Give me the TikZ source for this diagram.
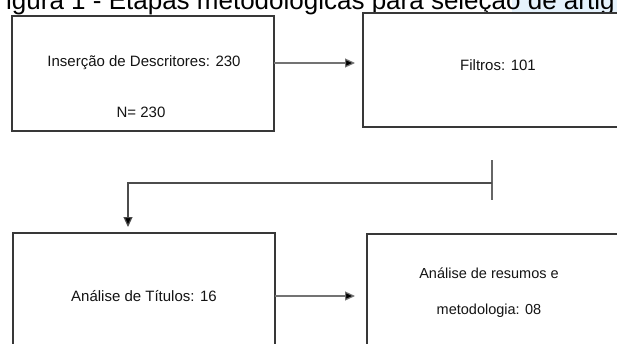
\documentclass[tikz,border=0pt]{standalone}
\usepackage{fontspec}
\setmainfont{Liberation Sans}
\usetikzlibrary{arrows.meta}
\definecolor{hl}{rgb}{0.90,0.95,0.99}
\begin{document}
\begin{tikzpicture}[x=1pt,y=-1pt,
  boxstyle/.style={draw=black!78,line width=1.6pt,inner sep=0pt,outer sep=0pt,fill=white},
  txt/.style={font=\fontsize{15}{18}\selectfont,text=black!92,inner sep=0pt},
  conn/.style={draw=black!55,line width=1.2pt,-{Triangle[length=10pt,width=9pt,fill=black]}},
  tickstyle/.style={draw=black!60,line width=1.5pt}]
\useasboundingbox (0,0) rectangle (617,343);
\clip (0,0) rectangle (617,343);
\fill[hl] (512,0) rectangle (617,12);
\node[anchor=base west,font=\fontsize{26}{30}\selectfont,inner sep=0pt] (title) at (6,9) {igura 1 - Etapas metodológicas para seleção de artig};
% boxes
\node[boxstyle,minimum width=262pt,minimum height=115pt] (b1) at (143,73.5) {};
\node[boxstyle,minimum width=270pt,minimum height=114pt] (b2) at (498,70) {};
\node[boxstyle,minimum width=262pt,minimum height=130pt] (b3) at (144,298) {};
\node[boxstyle,minimum width=262pt,minimum height=130pt] (b4) at (498,299) {};
% texts
\node[txt] (t1) at (144,63) {Inserção de Descritores: 230};
\node[txt] (t1b) at (141,112) {N= 230};
\node[txt] (t2) at (498,65) {Filtros: 101};
\node[txt] (t3) at (144,296) {Análise de Títulos: 16};
\node[txt,align=center,font=\fontsize{14.5}{36}\selectfont] (t4) at (489,293) {Análise de resumos e\\metodologia: 08};
% connectors
\draw[conn,shorten >=8pt] (t1.center -| b1.east) -- (t1.center -| b2.west);
\coordinate (tk) at (492,183);
\draw[tickstyle] (492,160) -- (492,200);
\draw[conn,draw=black!70,shorten >=6pt] (tk) -| ([xshift=-16pt]b3.north);
\draw[conn,shorten >=12pt] (t3.center -| b3.east) -- (t3.center -| b4.west);
\end{tikzpicture}
\end{document}
